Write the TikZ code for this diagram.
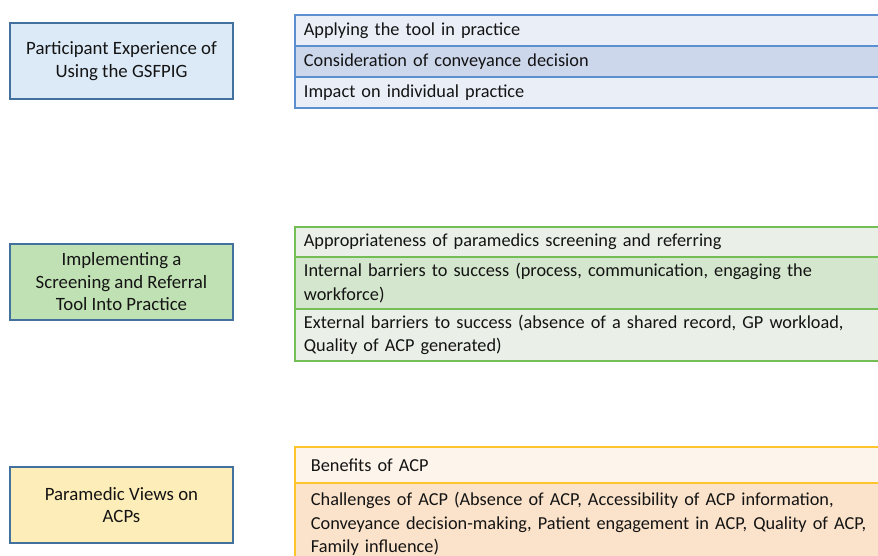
\documentclass[tikz,border=0pt]{standalone}
\usepackage{fontspec}
\setmainfont{Carlito}
\definecolor{lborder}{HTML}{41719C}
\definecolor{bluefill}{HTML}{DCEAF7}
\definecolor{greenfill}{HTML}{C0E1B4}
\definecolor{yellowfill}{HTML}{FDEDB8}
\definecolor{tblue}{HTML}{5B8FD0}
\definecolor{tbluea}{HTML}{E9EEF7}
\definecolor{tblueb}{HTML}{CDD7EB}
\definecolor{tgreen}{HTML}{74BF55}
\definecolor{tgreena}{HTML}{EAF0E7}
\definecolor{tgreenb}{HTML}{D4E6CD}
\definecolor{tgold}{HTML}{FDC52B}
\definecolor{tgolda}{HTML}{FDF4EB}
\definecolor{tgoldb}{HTML}{FBE3CB}
\definecolor{txt}{HTML}{141414}
\begin{document}
\begin{tikzpicture}[x=1pt,y=-1pt,
  leftbox/.style={draw=lborder, line width=1.6pt, minimum width=223pt, minimum height=76pt,
    align=center, inner sep=0pt, text=txt, font=\fontsize{18.8}{22.5}\selectfont},
  rowbox/.style={draw=#1, line width=1.8pt, anchor=north west, text width=585pt,
    align=left, inner xsep=9pt, inner ysep=0pt, text=txt, font=\fontsize{18.3}{23.5}\selectfont}]
\useasboundingbox (0,0) rectangle (878,556);
\clip (0,0) rectangle (878,556);
\fill[white] (0,0) rectangle (878,556);

% left boxes
\node[leftbox, fill=bluefill] (p1) at (121.5,61) {Participant Experience of\\Using the GSFPIG};
\node[leftbox, fill=greenfill] (p2) at (121.5,282) {Implementing a\\Screening and Referral\\Tool Into Practice};
\node[leftbox, fill=yellowfill] (p3) at (121.5,505) {Paramedic Views on\\ACPs};

% table 1
\node[rowbox=tblue, fill=tbluea, minimum height=31pt] (a1) at (294,14) {Applying the tool in practice};
\node[rowbox=tblue, fill=tblueb, minimum height=31pt] (a2) at (294,45) {Consideration of conveyance decision};
\node[rowbox=tblue, fill=tbluea, minimum height=31pt] (a3) at (294,76) {Impact on individual practice};

% table 2
\node[rowbox=tgreen, fill=tgreena, minimum height=30pt] (b1) at (294,226) {Appropriateness of paramedics screening and referring};
\node[rowbox=tgreen, fill=tgreenb, minimum height=52pt] (b2) at (294,256) {Internal barriers to success (process, communication, engaging the\\workforce)};
\node[rowbox=tgreen, fill=tgreena, minimum height=52pt] (b3) at (294,308) {External barriers to success (absence of a shared record, GP workload,\\Quality of ACP generated)};

% table 3
\node[rowbox=tgold, fill=tgolda, minimum height=36pt, inner xsep=16pt, text width=571pt] (c1) at (294,446) {Benefits of ACP};
\node[rowbox=tgold, fill=tgoldb, minimum height=82pt, inner xsep=16pt, text width=571pt] (c2) at (294,482) {Challenges of ACP (Absence of ACP, Accessibility of ACP information,\\Conveyance decision-making, Patient engagement in ACP, Quality of ACP,\\Family influence)};
\end{tikzpicture}
\end{document}
